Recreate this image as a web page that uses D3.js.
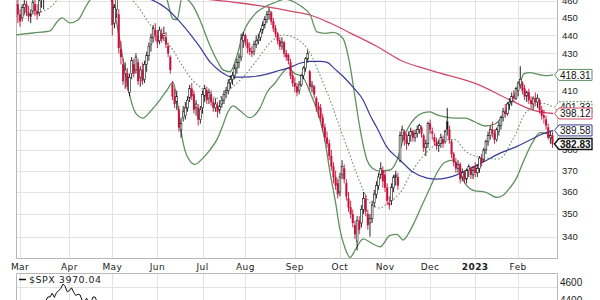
<!DOCTYPE html>
<html><head><meta charset="utf-8">
<script src="https://cdn.jsdelivr.net/npm/d3@7"></script>
<style>body{margin:0;background:#fff;}svg{display:block;}</style>
</head><body><svg id="c" width="600" height="300"></svg>
<script>
// ---------- DATA ----------
const monthLabels = ["Mar","Apr","May","Jun","Jul","Aug","Sep","Oct","Nov","Dec","2023","Feb"];
const priceTicks = [340,350,360,370,380,390,400,410,420,430,440,450,460];
const spxTicks = [4600,4400];
// daily candles [open, high, low, close]
const ohlcFeb22 = [[458,462,447,452]];
const ohlcMar22 = [[452,455,445,448],[450,458,448,456],[456,462,452,458],[458,460,451,453],[453,457,448,451],[451,455,447,452],[454,461,452,459],[458,462,451,454],[454,458,449,452],[453,462,451,460],[461,466,456,464],[463,469,455,467],[468,474,464,472],[472,478,468,476],[477,482,473,480],[480,484,475,478],[478,483,474,481],[482,487,478,485],[485,489,480,483],[483,490,481,488],[488,492,483,486],[486,488,479,481],[481,484,476,479]];
const ohlcApr22 = [[480,485,477,483],[483,487,478,480],[479,482,473,476],[476,480,471,478],[478,481,472,474],[473,477,467,470],[470,474,466,472],[472,478,469,476],[475,478,469,471],[471,475,466,473],[474,481,472,479],[479,483,474,477],[477,479,470,472],[472,475,466,468],[469,474,465,471],[471,473,464,467],[467,472,463,470],[471,478,469,476],[476,479,468,470],[470,474,463,465]];
const ohlcMay22 = [[463,467,440,446],[447,458,444,456],[455,463,450,461],[452,455,430,433],[432,437,424,428],[424,427,413,415],[419,425,411,421],[419,422,410,412],[409,419,407,417],[419,428,416,426],[424,427,417,419],[421,430,419,428],[425,427,413,415],[417,423,412,421],[421,425,413,415],[416,426,414,424],[424,431,420,429],[429,436,426,434],[435,441,431,439],[439,446,436,444],[443,447,437,440]];
const ohlcJun22 = [[440,443,433,436],[437,445,435,443],[441,444,436,438],[440,445,437,441],[439,442,433,435],[434,436,428,430],[428,429,419,421],[413,415,405,407],[407,411,401,403],[404,410,400,407],[400,402,389,391],[390,396,386,393],[396,402,394,399],[397,404,395,401],[401,407,399,405],[406,413,404,411],[411,414,405,407],[408,410,398,400],[401,405,397,403],[401,403,392,395],[395,402,393,400]];
const ohlcJul22 = [[401,410,398,408],[407,413,404,411],[410,412,403,405],[406,411,403,409],[408,410,402,404],[404,406,399,401],[401,406,399,403],[402,404,396,399],[400,405,398,402],[403,407,401,405],[405,410,403,408],[409,412,406,410],[410,416,408,414],[414,418,411,416],[416,420,413,418],[418,424,416,422],[422,427,419,425],[425,430,422,428],[428,441,426,438],[437,442,433,440]];
const ohlcAug22 = [[440,441,434,436],[436,438,430,433],[433,436,429,431],[431,434,428,430],[431,437,429,435],[435,440,433,437],[437,441,435,438],[439,444,437,442],[443,448,441,446],[446,451,444,449],[449,454,447,452],[452,456,449,454],[453,454,446,448],[448,450,442,444],[444,446,439,441],[441,442,435,437],[437,439,432,434],[434,439,432,436],[436,437,428,430],[430,432,426,428],[429,430,424,426],[425,427,416,418],[418,420,412,414]];
const ohlcSep22 = [[414,417,409,412],[412,414,407,409],[410,415,408,413],[413,419,412,418],[418,423,416,422],[422,428,420,427],[427,432,425,430],[420,421,410,412],[412,415,409,413],[412,413,406,408],[406,407,399,402],[402,404,396,400],[401,403,394,396],[396,398,389,391],[391,393,384,386],[386,389,381,383],[383,385,375,377],[377,380,370,372],[372,374,364,367],[367,370,361,363],[364,366,357,359]];
const ohlcOct22 = [[360,369,358,367],[368,375,366,372],[371,373,364,366],[364,366,356,358],[357,360,351,353],[353,356,348,350],[350,352,344,346],[345,347,339,341],[338,349,334,347],[347,349,341,343],[346,354,344,352],[352,360,350,357],[357,359,349,351],[350,352,343,345],[346,350,340,348],[348,356,346,354],[355,361,353,359],[359,365,357,363],[363,369,361,367],[368,374,366,371],[370,372,362,365]];
const ohlcNov22 = [[368,370,360,362],[362,364,354,356],[355,358,352,354],[356,364,354,362],[362,368,360,367],[367,370,363,368],[367,369,361,363],[375,389,374,387],[387,392,384,390],[389,390,382,385],[385,388,380,383],[383,389,382,387],[387,391,384,389],[389,390,384,386],[386,390,384,388],[388,392,386,390],[390,393,388,392],[391,392,386,388],[387,388,379,381],[381,385,377,383],[383,394,381,393]];
const ohlcDec22 = [[393,395,388,390],[389,391,385,388],[386,388,382,384],[384,386,380,382],[382,385,379,383],[383,388,381,386],[385,387,381,383],[384,390,383,389],[394,401,387,390],[390,392,383,385],[384,385,376,378],[378,379,372,374],[374,376,369,371],[371,375,369,373],[373,374,364,366],[367,371,365,369],[369,370,364,366],[366,371,364,370],[370,373,367,372],[371,372,366,368],[368,372,366,370]];
const ohlcJan23 = [[372,374,367,369],[369,373,367,371],[371,377,369,376],[376,378,372,374],[375,381,374,380],[380,385,378,384],[384,389,382,387],[387,392,385,390],[390,394,386,388],[388,390,383,385],[385,391,384,390],[389,394,387,392],[392,397,390,396],[396,401,394,399],[399,403,396,398],[398,404,397,403],[403,406,400,404],[404,409,402,407],[407,410,404,406],[406,412,405,411]];
const ohlcFeb23 = [[410,415,407,414],[413,423,411,416],[414,415,408,410],[411,413,405,407],[407,410,404,409],[409,411,403,405],[405,407,401,403],[403,407,400,406],[406,409,402,404],[404,408,401,406],[405,406,398,400],[400,402,395,397],[397,400,393,396],[395,397,390,392],[391,393,385,386],[386,389,383,387],[387,389,381,382.83]];
// indicator lines: [trading-day index (0 = 1 Mar 2022), value]
const bbUpper = [[-1.9,461.7],[6,463.6],[14,471],[19.6,480],[27,486],[37.3,484],[43.3,478],[48.9,500],[55,505],[60.5,492],[62.9,481],[65.2,475.5],[68.5,460.7],[71.3,449.3],[73.1,449],[75.5,462],[77.8,461],[81.5,455],[83.8,448.8],[88.5,434.3],[92.2,425.3],[94.6,421],[97.8,420],[101.1,428.9],[103.9,441.3],[107.1,448.8],[110.4,453.4],[115,457],[118.8,459],[123.4,461],[128.1,459],[131.8,456],[135.1,452],[138.3,442],[142.1,441.2],[145.8,441.7],[150.4,438.3],[153.7,423.5],[156,406.8],[158.3,390.8],[161.6,375.1],[164,371.3],[167.7,369.8],[172.3,370.3],[175.6,375.1],[178.4,384.8],[180.7,390.8],[184,395.8],[187.7,398.4],[191,398.9],[194.2,397.4],[197.9,396.4],[202.6,395.8],[207.3,395.8],[211.9,393.8],[216.6,391.8],[221.2,392.8],[225,397.4],[228.2,403.6],[231,409.3],[232.9,414],[234.7,419],[237.5,419.5],[242.2,418.4],[245.5,417.9],[248.3,418.31]];
const bbMiddle = [[-1.9,451],[4.7,452.3],[10.7,454],[14.9,457],[17.7,461],[27.9,467.5],[37.3,474.5],[43.3,468],[48.9,464],[52.6,460],[55.9,455],[59.2,448.5],[65.2,440.3],[68.5,435.5],[71.3,431.9],[73.6,427],[76.9,421],[80.6,415],[83.8,412],[88.5,407.5],[92.2,406],[95.5,408.7],[100.1,412.9],[104.8,418.2],[110.4,426.4],[116.4,435.8],[122.5,440.3],[129,438],[135.1,430.3],[139.7,418.2],[144.4,405.1],[149,390.8],[152.8,379.9],[156.5,369.3],[159.8,360.9],[164,354.1],[167.7,352.7],[170.9,354.6],[174.7,357.2],[177.9,360.9],[181.6,367.9],[186.3,375.1],[191,380.5],[194.2,383],[197.9,385],[202.6,385],[207.3,379.5],[211.9,377],[217.5,376],[222.2,375.5],[225.9,378],[228.2,382.7],[231,388],[234.3,396.5],[238.9,401.5],[243.6,403.3],[248.3,401.33]];
const bbLower = [[-1.9,440.3],[6,441.4],[14,442.6],[17.2,447.7],[19.6,450],[23.3,447.2],[27,448.8],[30.3,455.8],[32.6,460.5],[37.3,465],[41,463],[43.3,457.5],[45.6,443],[48.9,421],[51.2,407],[54.5,397.4],[57.3,395.8],[60.5,398.9],[65.2,405.1],[68.5,410.3],[71.3,414.5],[73.1,405],[75.5,386],[77.8,377],[81.5,373],[85.2,376],[88.5,380],[92.2,386],[94.1,391],[96.9,399],[99.2,402],[102.5,399.5],[107.1,396],[111.8,401],[115,409],[118.8,414],[122,419],[124.8,422],[128.1,419],[131.8,417],[135.1,409],[139.7,395],[142.1,384],[144.4,369],[147,355],[149,343],[151.4,335],[153.7,331],[156,334],[159.8,339],[164,337],[167.7,335.6],[172.3,340.5],[175.6,341],[178.4,338.5],[180.7,341],[184,347],[187.7,355],[191,362],[194.2,369],[197.9,374],[201.7,375],[204.5,371],[207.3,364],[211.9,360.5],[216.6,360],[222.2,357.5],[225,358.5],[228.2,362],[231,366],[234.3,374],[238.9,384],[242.2,388.5],[245.5,388],[248.3,384.35]];
const sma50 = [[-1.9,470],[20,469],[37.3,466],[55.9,462.2],[61.5,460.5],[68.5,455.2],[74.5,447.7],[80.6,438.6],[83.8,433.5],[88.5,425.3],[93.2,420.3],[99.2,417.1],[107.1,417.3],[115,418.7],[121.1,420.8],[125.8,422.4],[130.4,424.6],[135.1,425.6],[139.7,425.6],[143,425.1],[146.7,421.4],[150.4,417.6],[155.1,411.8],[159.8,405.1],[163,397.4],[166.3,390.8],[170.9,381.3],[177,375.1],[183,369.3],[189.6,366.5],[194.2,366],[200.3,366.9],[208.2,370.3],[215.7,374.1],[223.6,378.4],[231.5,381.7],[237.5,384.8],[242.2,387.3],[248.3,389.58]];
const sma200 = [[-1.9,473.6],[37.3,467.6],[65.2,464],[89.9,460.5],[102.5,458.7],[115,456.4],[125.8,454],[135.1,451.7],[144.4,447.1],[153.7,441.5],[166.3,433.8],[177,426.4],[192.4,420.4],[212.9,413.4],[228.2,405.1],[238.9,399.9],[248.3,398.12]];
// $SPX closes, 28 Feb 2022 .. 29 Apr 2022 (the rest of the year sits below the visible panel)
const spxClose = [4373.94,4306.26,4386.54,4363.49,4328.87,4201.09,4170.70,4277.88,4259.52,4204.31,4173.11,4262.45,4357.86,4411.67,4463.12,4461.18,4511.61,4456.24,4520.16,4543.06,4575.52,4631.60,4602.45,4530.41,4545.86,4582.64,4525.12,4481.15,4500.21,4488.28,4412.53,4397.45,4446.59,4392.59,4391.69,4462.21,4459.45,4393.66,4271.78,4296.12,4175.20,4183.96,4287.50,4131.93];
const spxLast = 3970.04;

// ---------- BUILD ----------
const months = [ohlcMar22,ohlcApr22,ohlcMay22,ohlcJun22,ohlcJul22,ohlcAug22,ohlcSep22,ohlcOct22,ohlcNov22,ohlcDec22,ohlcJan23,ohlcFeb23];
const bars = []; let idx = -1;
ohlcFeb22.forEach(r => bars.push({i: idx++, o:r[0], h:r[1], l:r[2], c:r[3]}));
const monthStart = [];
months.forEach(arr => { monthStart.push(idx); arr.forEach(r => bars.push({i: idx++, o:r[0], h:r[1], l:r[2], c:r[3]})); });
bars.forEach((b,k) => { b.pc = k>0 ? bars[k-1].c : b.o; });

const L = 16, R = 557, T = 0, B = 258;
const x = d3.scaleLinear().domain([-1.863, 250.1]).range([L, R]);
const y = d3.scaleLog().domain([330.8, 460.47]).range([B, T]);

const svg = d3.select("#c");
const fontA = "'Liberation Sans', Arial, sans-serif";
const fontD = "'DejaVu Sans', Verdana, sans-serif";
svg.append("rect").attr("width",600).attr("height",300).attr("fill","#fff");
const defs = svg.append("defs");
defs.append("clipPath").attr("id","clipMain").append("rect").attr("x",L).attr("y",T).attr("width",R-L).attr("height",B-T);
defs.append("clipPath").attr("id","clipSpx").append("rect").attr("x",L).attr("y",273).attr("width",R-L).attr("height",30);

// grid main
const grid = svg.append("g").attr("stroke","#e2e2e2").attr("stroke-width",1);
priceTicks.forEach(t => grid.append("line").attr("x1",L).attr("x2",R).attr("y1",Math.round(y(t))+0.5).attr("y2",Math.round(y(t))+0.5));
monthStart.forEach(m => grid.append("line").attr("x1",Math.round(x(m))+0.5).attr("x2",Math.round(x(m))+0.5).attr("y1",T).attr("y2",B));
// frame
svg.append("path").attr("d",`M${L+0.5},0 V${B+0.5} H${R+0.5} V0`).attr("fill","none").attr("stroke","#b8b8b8");

const plot = svg.append("g").attr("clip-path","url(#clipMain)");
const line = d3.line().x(d => x(d[0])).y(d => y(d[1])).curve(d3.curveMonotoneX);
plot.append("path").attr("d",line(sma200)).attr("fill","none").attr("stroke","#d24a6a").attr("stroke-width",1.3);
plot.append("path").attr("d",line(bbMiddle)).attr("fill","none").attr("stroke","#6f936f").attr("stroke-width",1.1).attr("stroke-dasharray","1.6,2");
plot.append("path").attr("d",line(bbUpper)).attr("fill","none").attr("stroke","#5f905f").attr("stroke-width",1.3);
plot.append("path").attr("d",line(bbLower)).attr("fill","none").attr("stroke","#5f905f").attr("stroke-width",1.3);
plot.append("path").attr("d",line(sma50)).attr("fill","none").attr("stroke","#3a3c98").attr("stroke-width",1.2);

// candles
const RED = "#c8103c", BLK = "#111";
const cg = plot.append("g");
bars.forEach(b => {
  const col = b.c < b.pc ? RED : BLK;
  const cx = x(b.i);
  cg.append("line").attr("x1",cx).attr("x2",cx).attr("y1",y(b.h)).attr("y2",y(b.l)).attr("stroke",col).attr("stroke-width",0.9);
  const top = y(Math.max(b.o,b.c)), bot = y(Math.min(b.o,b.c));
  const hollow = b.c > b.o;
  cg.append("rect").attr("x",cx-0.9).attr("y",top).attr("width",1.8).attr("height",Math.max(0.8,bot-top))
    .attr("fill",hollow ? "#fff" : col).attr("stroke",col).attr("stroke-width",hollow?0.6:0.2);
});

// value boxes (last values of each series)
const boxes = [
  {v: bbUpper[bbUpper.length-1][1], color:"#5f905f"},
  {v: bbMiddle[bbMiddle.length-1][1], color:"#5f905f", dash:"2,1.5"},
  {v: sma200[sma200.length-1][1], color:"#d24a6a"},
  {v: sma50[sma50.length-1][1], color:"#3a3c98"},
  {v: bars[bars.length-1].c, color:"#111", bold:true}
];
// right axis labels (skip the ones that the value boxes hide completely)
const ax = svg.append("g").attr("font-family",fontA).attr("font-size",9.5).attr("fill","#222");
priceTicks.forEach(t => {
  const yy = y(t);
  const hidden = [yy-3, yy+3].every(p => boxes.some(b => Math.abs(y(b.v) - p) <= 5.5));
  if (!hidden) ax.append("text").attr("x",562).attr("y",yy+3.4).text(t);
});
boxes.forEach(b => {
  const yy = y(b.v);
  svg.append("path").attr("d",`M554.5,${yy} L559,${yy-5.5} L592,${yy-5.5} L592,${yy+5.5} L559,${yy+5.5} Z`)
    .attr("fill","#fff").attr("stroke",b.color).attr("stroke-width",b.bold?1.4:1).attr("stroke-dasharray",b.dash||null);
  svg.append("text").attr("x",560).attr("y",yy+3.6).attr("font-family",fontA).attr("font-size",10)
    .attr("font-weight",b.bold?"bold":"normal").attr("fill","#111").text(b.v.toFixed(2));
});

// month labels
const ml = svg.append("g").attr("font-family",fontD).attr("font-size",9).attr("fill","#222").attr("text-anchor","middle");
monthStart.forEach((m,k) => ml.append("text").attr("x",x(m)).attr("y",269.5).attr("font-weight",monthLabels[k]==="2023"?"bold":"normal").attr("letter-spacing",0.4).text(monthLabels[k]));

// ---------- $SPX panel ----------
const ys = d3.scaleLinear().domain([4400,4600]).range([301.7,286.5]);
const sg = svg.append("g").attr("stroke","#e2e2e2");
monthStart.forEach(m => sg.append("line").attr("x1",Math.round(x(m))+0.5).attr("x2",Math.round(x(m))+0.5).attr("y1",273).attr("y2",300));
spxTicks.forEach(t => sg.append("line").attr("x1",L).attr("x2",R).attr("y1",Math.round(ys(t))+0.5).attr("y2",Math.round(ys(t))+0.5));
svg.append("path").attr("d",`M${L+0.5},300 V273.5 H${R+0.5} V300`).attr("fill","none").attr("stroke","#b8b8b8");
const spxPts = spxClose.map((v,k) => [k-1, v]);
svg.append("g").attr("clip-path","url(#clipSpx)").append("path")
  .attr("d", d3.line().x(d => x(d[0])).y(d => ys(d[1]))(spxPts)).attr("fill","none").attr("stroke","#111").attr("stroke-width",1);
svg.append("line").attr("x1",19).attr("x2",26).attr("y1",279.5).attr("y2",279.5).attr("stroke","#111").attr("stroke-width",1.5);
svg.append("text").attr("x",29).attr("y",283).attr("font-family",fontD).attr("font-size",9.5).attr("letter-spacing",0.5).attr("fill","#222").text("$SPX " + spxLast.toFixed(2));
const sx = svg.append("g").attr("font-family",fontA).attr("font-size",10).attr("fill","#222");
sx.append("text").attr("x",560).attr("y",285.5).text("4600");
sx.append("text").attr("x",560).attr("y",304).text("4400");
</script></body></html>
